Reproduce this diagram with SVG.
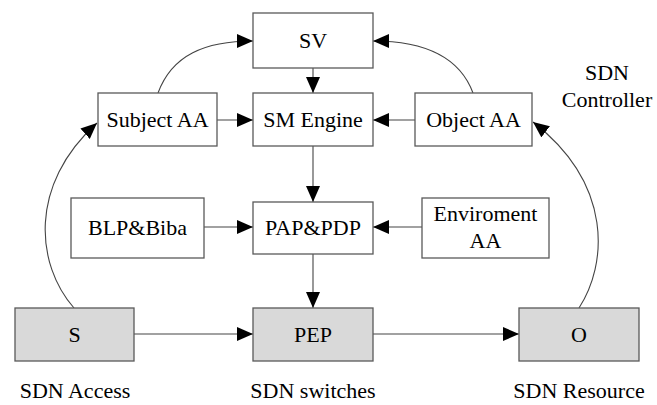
<svg xmlns="http://www.w3.org/2000/svg" width="657" height="405" viewBox="0 0 657 405">
<style>
.box{fill:#fff;stroke:#595959;stroke-width:1.3}
.gray{fill:#d9d9d9;stroke:#595959;stroke-width:1.3}
.t{font-family:'Liberation Serif','DejaVu Serif',serif;font-size:22px;fill:#000;text-anchor:middle}
.c{fill:none;stroke:#444;stroke-width:1.1}
</style>
<defs>
<marker id="a" markerUnits="userSpaceOnUse" markerWidth="17" markerHeight="15" refX="16" refY="7" orient="auto">
<path d="M0,0 L16,7 L0,14 z" fill="#000"/>
</marker>
</defs>
<rect width="657" height="405" fill="#fff"/>
<g id="connectors">
<path class="c" d="M313,68 L313,93" marker-end="url(#a)"/>
<path class="c" d="M217,120 L253,120" marker-end="url(#a)"/>
<path class="c" d="M415,120 L373,120" marker-end="url(#a)"/>
<path class="c" d="M313,146 L313,202" marker-end="url(#a)"/>
<path class="c" d="M204,227 L253,227" marker-end="url(#a)"/>
<path class="c" d="M422,227 L373,227" marker-end="url(#a)"/>
<path class="c" d="M313,254 L313,308" marker-end="url(#a)"/>
<path class="c" d="M134,334 L253,334" marker-end="url(#a)"/>
<path class="c" d="M373,334 L519,334" marker-end="url(#a)"/>
<path class="c" d="M158,93 C172,55 205,41 253,41" marker-end="url(#a)"/>
<path class="c" d="M473,93 C460,58 425,41 373,41" marker-end="url(#a)"/>
<path class="c" d="M74,308 C36,265 28,185 97,123" marker-end="url(#a)"/>
<path class="c" d="M579,308 C607,265 614,185 533,122" marker-end="url(#a)"/>
</g>
<g font-family="Liberation Serif, serif">
<g id="SV"><rect class="box" x="253" y="13" width="120" height="55"/><text class="t" x="313" y="48">SV</text></g>
<g id="SMEngine"><rect class="box" x="253" y="93" width="120" height="53"/><text class="t" x="313" y="127">SM Engine</text></g>
<g id="SubjectAA"><rect class="box" x="98" y="93" width="119" height="53"/><text class="t" x="157.5" y="127">Subject AA</text></g>
<g id="ObjectAA"><rect class="box" x="415" y="93" width="117" height="53"/><text class="t" x="473.5" y="127">Object AA</text></g>
<g id="PAPPDP"><rect class="box" x="253" y="202" width="120" height="52"/><text class="t" x="313" y="235">PAP&amp;PDP</text></g>
<g id="BLPBiba"><rect class="box" x="71" y="198" width="133" height="60"/><text class="t" x="137.5" y="235">BLP&amp;Biba</text></g>
<g id="EnviromentAA"><rect class="box" x="422" y="198" width="127" height="60"/><text class="t" x="485.5" y="221">Enviroment</text><text class="t" x="485.5" y="248">AA</text></g>
<g id="S"><rect class="gray" x="15" y="308" width="119" height="53"/><text class="t" x="74.5" y="342">S</text></g>
<g id="PEP"><rect class="gray" x="253" y="308" width="120" height="53"/><text class="t" x="313" y="342">PEP</text></g>
<g id="O"><rect class="gray" x="519" y="308" width="120" height="53"/><text class="t" x="579" y="342">O</text></g>
<g id="labels">
<text class="t" x="75" y="398">SDN Access</text>
<text class="t" x="313" y="398">SDN switches</text>
<text class="t" x="579" y="398">SDN Resource</text>
<text class="t" x="607" y="80">SDN</text>
<text class="t" x="607" y="107">Controller</text>
</g>
</g>
</svg>
